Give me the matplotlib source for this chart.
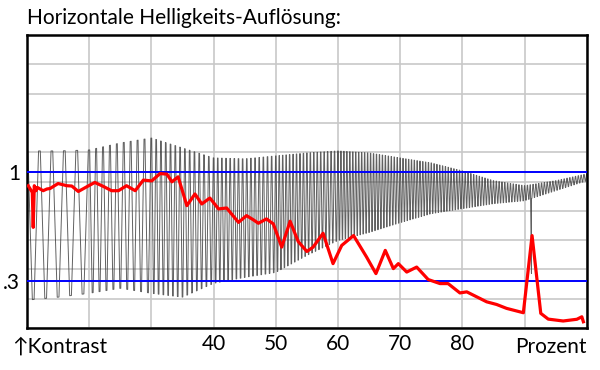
import numpy as np
import matplotlib
matplotlib.use("Agg")
import matplotlib.pyplot as plt

plt.rcParams['font.family'] = ['Lato', 'DejaVu Sans']

# red curve (contrast, smoothed), x in percent
red_x = [10.2, 10.85, 11.0, 11.17, 11.45, 11.66, 12.6, 13.2, 13.7, 15.0, 16.4, 17.2,
         18.25, 19.6, 20.9, 22.3, 23.6, 24.7, 26.0, 27.4, 28.7, 30.05, 31.4, 32.5,
         33.3, 34.3, 35.7, 37.0, 38.1, 39.4, 40.8, 42.1, 44.0, 45.3, 46.4, 47.2,
         48.5, 49.6, 50.95, 52.3, 53.6, 55.0, 56.0, 57.6, 59.2, 60.6, 62.5, 64.6,
         66.1, 67.6, 68.9, 69.7, 71.05, 72.65, 74.5, 76.4, 77.7, 79.6, 80.7, 82.3,
         83.9, 85.5, 87.1, 89.8, 91.2, 92.6, 93.8, 96.2, 98.4, 99.2, 99.45]
red_y = [0.913, 0.870, 0.646, 0.913, 0.881, 0.902, 0.881, 0.892, 0.895, 0.927, 0.913, 0.911,
         0.876, 0.906, 0.934, 0.908, 0.881, 0.881, 0.913, 0.881, 0.949, 0.944, 0.991, 0.987,
         0.938, 0.970, 0.785, 0.860, 0.796, 0.834, 0.764, 0.770, 0.678, 0.721, 0.694, 0.672,
         0.700, 0.668, 0.519, 0.685, 0.555, 0.491, 0.519, 0.608, 0.413, 0.530, 0.593, 0.455,
         0.349, 0.498, 0.381, 0.413, 0.359, 0.391, 0.311, 0.285, 0.285, 0.225, 0.232, 0.200,
         0.168, 0.151, 0.126, 0.098, 0.593, 0.094, 0.057, 0.045, 0.056, 0.072, 0.040]

env_x = [10, 15, 20, 25, 30, 35, 40, 45, 50, 55, 60, 65, 70, 75, 80, 85, 90, 95, 100]
env_hi = [1.136, 1.136, 1.142, 1.187, 1.219, 1.155, 1.091, 1.085, 1.104, 1.123,
          1.136, 1.123, 1.091, 1.059, 1.008, 0.945, 0.913, 0.945, 0.989]
env_lo = [0.179, 0.198, 0.223, 0.255, 0.223, 0.198, 0.287, 0.325, 0.357, 0.466,
          0.562, 0.613, 0.676, 0.734, 0.766, 0.798, 0.817, 0.881, 0.945]
cell_edges = [10, 20, 30, 40, 50, 60, 70, 80, 90, 100]
cycles_per_cell = [5, 9, 13, 15, 18, 21, 22, 22, 22]
dip_x, dip_y = 91.1, 0.35

blue_levels = [1.0, 0.3]
xtick_vals = [40, 50, 60, 70, 80]

# build the oscillation: each peak / trough drawn as a short flat turn
cum = np.concatenate([[0], np.cumsum(cycles_per_cell)])
turns = np.arange(0, cum[-1] + 0.5, 0.5)
phase = np.clip(np.sort(np.concatenate([turns - 0.07, turns + 0.07])), 0, cum[-1])
is_peak = np.round(phase * 2) % 2 == 0
gx = np.interp(phase, cum, cell_edges)
gy = np.where(is_peak, np.interp(gx, env_x, env_hi), np.interp(gx, env_x, env_lo))
k = np.searchsorted(gx, dip_x)
gx = np.insert(gx, k, dip_x)
gy = np.insert(gy, k, dip_y)

fig = plt.figure(figsize=(6, 3.7), dpi=100)
ax = fig.add_axes([0.045, 0.1135, 0.933, 0.7919])

ax.plot(gx, gy, color='#3a3a3a', lw=0.7, alpha=0.8, zorder=2)
for lv in blue_levels:
    ax.axhline(lv, color='#0000ff', lw=1.4, zorder=3)
ax.plot(red_x, red_y, color='#ff0000', lw=2.3, zorder=4, solid_joinstyle='round')

ax.set_xlim(10, 100)
ax.set_ylim(0, 1.88)
ax.set_xticks(np.arange(10, 101, 10), minor=True)
ax.set_yticks(np.linspace(0, 1.88, 11), minor=True)
ax.set_xticks(xtick_vals, [str(v) for v in xtick_vals])
ax.set_yticks(blue_levels, ['1', '.3'])
ax.grid(which='both', color='#c8c8c8', lw=1.2, zorder=0)
ax.tick_params(which='both', length=0, labelsize=15, pad=4)
ax.tick_params(axis='y', pad=5)
for sp in ax.spines.values():
    sp.set_linewidth(1.8)
    sp.set_color('black')
ax.set_axisbelow(True)

ax.text(-0.027, -0.03, '\u2191Kontrast', transform=ax.transAxes, ha='left', va='top',
        fontsize=15)
ax.text(1.0, -0.03, 'Prozent', transform=ax.transAxes, ha='right', va='top', fontsize=15)
fig.text(0.045, 0.952, 'Horizontale Helligkeits-Aufl\u00f6sung:', ha='left', va='center',
         fontsize=15)

fig.savefig('out.png', dpi=100)
